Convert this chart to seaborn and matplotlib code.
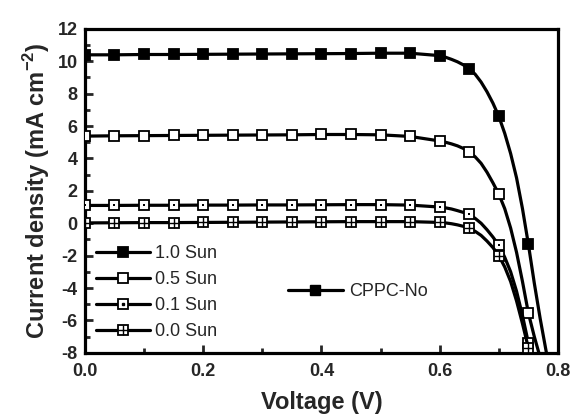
import numpy as np
import pandas as pd
import matplotlib
matplotlib.use("Agg")
import matplotlib.pyplot as plt
import seaborn as sns
from matplotlib.lines import Line2D
from matplotlib.legend_handler import HandlerTuple
from matplotlib.ticker import MultipleLocator

# ---------------- data ----------------
v_plateau = [0.00, 0.05, 0.10, 0.15, 0.20, 0.25, 0.30, 0.35, 0.40, 0.45, 0.50, 0.55]
v_knee = [0.60, 0.61, 0.62, 0.63, 0.64, 0.65, 0.66, 0.67, 0.68, 0.69, 0.70,
          0.71, 0.72, 0.73, 0.74, 0.75, 0.76, 0.77, 0.78, 0.79]

j_10 = [10.40, 10.40, 10.42, 10.42, 10.43, 10.44, 10.45, 10.46, 10.47, 10.48, 10.50, 10.50,
        10.35, 10.25, 10.12, 9.97, 9.78, 9.55, 9.20, 8.72, 8.12, 7.42, 6.60,
        5.55, 4.30, 2.80, 0.90, -1.30, -3.70, -5.90, -7.90, -9.80]

j_05 = [5.38, 5.40, 5.41, 5.42, 5.43, 5.44, 5.45, 5.46, 5.48, 5.48, 5.46, 5.36,
        5.08, 5.00, 4.90, 4.78, 4.62, 4.40, 4.10, 3.70, 3.15, 2.50, 1.80,
        0.90, -0.30, -1.80, -3.60, -5.55, -7.00, -8.30, -9.60, -11.0]

j_01 = [1.10, 1.10, 1.11, 1.11, 1.12, 1.12, 1.13, 1.13, 1.14, 1.15, 1.15, 1.12,
        1.00, 0.95, 0.88, 0.78, 0.67, 0.54, 0.30, 0.00, -0.40, -0.85, -1.36,
        -2.10, -3.00, -4.20, -5.70, -7.40, -9.20, -11.0, -12.0, -13.0]

j_00 = [0.02, 0.03, 0.04, 0.04, 0.05, 0.06, 0.07, 0.08, 0.09, 0.10, 0.10, 0.10,
        0.05, 0.02, -0.03, -0.10, -0.19, -0.30, -0.50, -0.75, -1.10, -1.50, -2.00,
        -2.70, -3.60, -4.80, -6.20, -7.70, -9.40, -11.0, -12.0, -13.0]

series_labels = ["1.0 Sun", "0.5 Sun", "0.1 Sun", "0.0 Sun"]
sample_label = "CPPC-No"
x_label = "Voltage (V)"
y_label = r"Current density (mA cm$^{\mathbf{-2}}$)"
x_ticks = [0.0, 0.2, 0.4, 0.6, 0.8]
y_ticks = [-8, -6, -4, -2, 0, 2, 4, 6, 8, 10, 12]

# ---------------- style ----------------
sns.set_theme(style="ticks")
plt.rcParams["font.family"] = ["Liberation Sans", "DejaVu Sans"]
plt.rcParams["mathtext.fontset"] = "custom"
plt.rcParams["mathtext.rm"] = "Liberation Sans"
plt.rcParams["mathtext.bf"] = "Liberation Sans:bold"

fig = plt.figure(figsize=(5.77, 4.19), dpi=100)
ax = fig.add_axes([0.147, 0.158, 0.820, 0.773])

LW = 2.3
MS = 7.5

volts = v_plateau + v_knee


def marker_idx(v):
    return [i for i, x in enumerate(v)
            if abs(round(x / 0.05) * 0.05 - x) < 1e-9 and x <= 0.75 + 1e-9]


midx = marker_idx(volts)

series = [(j_10, "black"), (j_05, "white"), (j_01, "white"), (j_00, "white")]
for (j, fc), lab in zip(series, series_labels):
    df = pd.DataFrame({"V": volts, "J": j})
    sns.lineplot(data=df, x="V", y="J", ax=ax, color="black", lw=LW, marker="s",
                 markersize=MS, markerfacecolor=fc, markeredgecolor="black",
                 markeredgewidth=1.3, markevery=midx, legend=False, zorder=3)

# inner glyphs for the 0.1 Sun (dot) and 0.0 Sun (cross) markers
df01 = pd.DataFrame({"V": [volts[i] for i in midx], "J": [j_01[i] for i in midx]})
sns.scatterplot(data=df01, x="V", y="J", ax=ax, marker="s", s=3, color="black",
                linewidth=0, zorder=4, legend=False)
df00 = pd.DataFrame({"V": [volts[i] for i in midx], "J": [j_00[i] for i in midx]})
sns.scatterplot(data=df00, x="V", y="J", ax=ax, marker="+", s=45, color="black",
                linewidth=1.0, zorder=4, legend=False)

ax.set_xlim(0.0, 0.8)
ax.set_ylim(-8, 12)
ax.set_xticks(x_ticks)
ax.set_yticks(y_ticks)
ax.xaxis.set_minor_locator(MultipleLocator(0.1))
ax.yaxis.set_minor_locator(MultipleLocator(1))
ax.set_xticklabels([f"{t:.1f}" for t in x_ticks], fontsize=13, fontweight="bold")
ax.set_yticklabels([str(t) for t in y_ticks], fontsize=13, fontweight="bold")
ax.tick_params(which="major", direction="in", length=6, width=2)
ax.tick_params(axis="x", which="major", pad=7)
ax.tick_params(axis="y", which="major", pad=5)
ax.tick_params(which="minor", direction="in", length=3.5, width=2)
ax.tick_params(top=False, right=False, which="both")
for sp in ax.spines.values():
    sp.set_linewidth(2.3)
    sp.set_color("black")

ax.set_xlabel(x_label, fontsize=17, fontweight="bold", labelpad=8)
ax.set_ylabel(y_label, fontsize=17, fontweight="bold", labelpad=4)

# ---------------- legends ----------------
def h(fc, extra=None):
    base = Line2D([], [], color="black", lw=LW, marker="s", markersize=MS,
                  markerfacecolor=fc, markeredgecolor="black", markeredgewidth=1.3)
    if extra is None:
        return base
    return (base, extra)


dot = Line2D([], [], ls="", marker="s", markersize=1.7, color="black")
cross = Line2D([], [], ls="", marker="+", markersize=6.5, color="black", markeredgewidth=1.0)
handles = [h("black"), h("white"), h("white", dot), h("white", cross)]
leg1 = ax.legend(handles, series_labels, loc="upper left", bbox_to_anchor=(0.0, 0.365),
                 frameon=False, fontsize=13, handlelength=3.0, handletextpad=0.3,
                 labelspacing=0.5, borderaxespad=0.2,
                 handler_map={tuple: HandlerTuple(ndivide=1, pad=0)})
ax.add_artist(leg1)
leg1.set_zorder(6)

h2 = Line2D([], [], color="black", lw=LW, marker="s", markersize=MS,
            markerfacecolor="black", markeredgecolor="black")
leg2 = ax.legend([h2], [sample_label], loc="center left", bbox_to_anchor=(0.415, 0.188),
                 frameon=False, fontsize=13, handlelength=3.0, handletextpad=0.35,
                 borderaxespad=0.0)

fig.savefig("out.png", dpi=100)
